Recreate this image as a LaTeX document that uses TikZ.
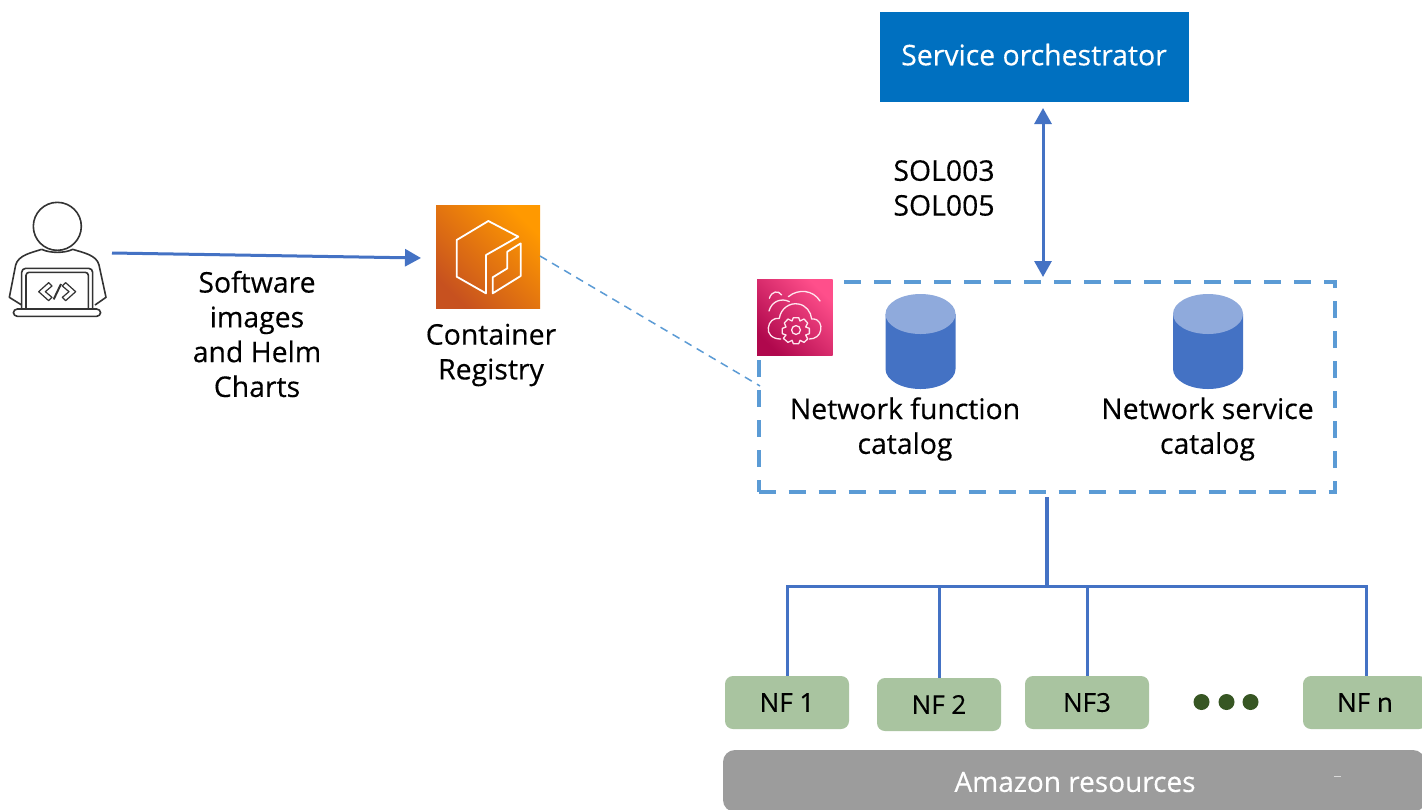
\documentclass[tikz,border=0pt]{standalone}
\usepackage{fontspec}
\setmainfont{Open Sans}[FakeBold=0.35]
\usetikzlibrary{arrows.meta}
\definecolor{linkblue}{HTML}{4472C4}
\definecolor{dashblue}{HTML}{5B9BD5}
\definecolor{orch}{HTML}{0070C0}
\definecolor{nfgreen}{HTML}{A9C4A0}
\definecolor{dotgreen}{HTML}{375623}
\definecolor{resgrey}{HTML}{9C9C9C}
\definecolor{cyltop}{HTML}{8FAADC}
\definecolor{iconline}{HTML}{333333}
\definecolor{orangeA}{HTML}{C7511F}
\definecolor{orangeB}{HTML}{FF9900}
\definecolor{pinkA}{HTML}{B0084D}
\definecolor{pinkB}{HTML}{FF4F8B}
\tikzset{
  lbl/.style={align=center,font=\fontsize{14.2}{17.4}\selectfont,text=black,inner sep=0pt},
  nfbox/.style={rectangle,rounded corners=4pt,fill=nfgreen,minimum width=62pt,minimum height=26.5pt,inner sep=0pt,font=\fontsize{13}{14}\selectfont},
  link/.style={draw=linkblue,line width=1.5pt},
  thin link/.style={draw=dashblue,line width=0.75pt,dash pattern=on 4pt off 3pt},
  tip/.style={-{Triangle[length=8pt,width=8.5pt]}},
  tips/.style={{Triangle[length=8pt,width=8.5pt]}-{Triangle[length=8pt,width=8.5pt]}},
  iconstroke/.style={draw=iconline,line width=0.8pt,line join=round},
  whitestroke/.style={draw=white,line width=0.9pt,line join=round,line cap=round},
  pinkstroke/.style={draw=white!85!pinkB,line width=0.65pt,line join=round,line cap=round}
}
\begin{document}
\begin{tikzpicture}[x=0.5pt,y=-0.5pt]
\useasboundingbox[clip] (0,0) rectangle (1422,809);
\fill[white] (0,0) rectangle (1422,809);

% developer icon
\begin{scope}[shift={(0,190)},x=0.16667pt,y=-0.16667pt]
  \draw[iconstroke] (172,109) circle [radius=12pt];
  \draw[iconstroke] (125,178) .. controls (150,190) and (195,190) .. (218,178)
    .. controls (250,188) and (290,195) .. (297,225) -- (318,322) -- (285,345);
  \draw[iconstroke] (125,178) .. controls (95,188) and (55,195) .. (47,225) -- (28,322) -- (65,345);
  \draw[iconstroke,rounded corners=2pt] (65,355) -- (65,235) -- (278,235) -- (278,355);
  \draw[iconstroke,rounded corners=1.5pt] (78,355) -- (78,247) -- (265,247) -- (265,355);
  \draw[iconstroke,rounded corners=2pt] (40,357) rectangle (302,379);
  \draw[iconstroke,line width=0.6pt] (146,278) -- (116,305) -- (146,332) -- (156,322) -- (136,305) -- (156,288) -- cycle;
  \draw[iconstroke,line width=0.6pt] (197,278) -- (227,305) -- (197,332) -- (187,322) -- (207,305) -- (187,288) -- cycle;
  \draw[iconstroke,line width=1pt] (161,328) -- (183,282);
\end{scope}
\coordinate (devout) at (112,253);

% container registry
\node[minimum width=52pt,minimum height=51.5pt,inner sep=0pt] (registry) at (488,256.5) {};
\shade[bottom color=orangeA,top color=orangeB,shading angle=-45] (436,205) rectangle (540,308.5);
\begin{scope}[shift={(420,190)},x=0.16667pt,y=-0.16667pt]
  \draw[whitestroke] (198,310) -- (110,260) -- (110,150) -- (205,93) -- (295,140) -- (198,195) -- cycle;
  \draw[whitestroke] (302,160) -- (302,258) -- (218,310) -- (218,262) -- (262,235) -- (262,185) -- cycle;
\end{scope}
\node[lbl] (registrylabel) at (491,355) {Container\\Registry};
\node[lbl] (swlabel) at (257,334) {Software\\images\\and Helm\\Charts};

% catalog box
\node[draw=dashblue,line width=2pt,dash pattern=on 8.5pt off 6.5pt,minimum width=288pt,minimum height=105pt,inner sep=0pt] (catalog) at (1046.5,387) {};

% service icon
\shade[bottom color=pinkA,top color=pinkB,shading angle=-45] (757,279.5) rectangle (832.5,355.5);
\begin{scope}[shift={(740,265)},x=0.16667pt,y=-0.16667pt]
  \draw[pinkstroke] (122,222) .. controls (95,222) and (82,205) .. (85,188)
     .. controls (87,170) and (100,158) .. (118,160)
     .. controls (122,130) and (150,112) .. (175,117)
     .. controls (197,120) and (213,140) .. (215,162)
     .. controls (240,160) and (245,182) .. (242,195)
     .. controls (240,212) and (225,222) .. (208,222);
  \draw[pinkstroke] (88,100) .. controls (95,78) and (115,75) .. (125,90);
  \draw[pinkstroke] (145,95) .. controls (175,70) and (220,75) .. (240,108);
  \draw[pinkstroke] (87,138) .. controls (95,108) and (125,98) .. (148,110);
  \draw[pinkstroke] (168,195) circle [radius=2.2pt];
  \draw[pinkstroke] (160,158) -- (176,158) -- (180,168) -- (192,162) -- (203,174) -- (197,186) -- (208,190) -- (208,206) -- (197,210) -- (203,222) -- (192,232) -- (180,226) -- (176,236) -- (160,236) -- (156,226) -- (144,232) -- (130,220) -- (138,210) -- (127,206) -- (127,190) -- (138,186) -- (133,174) -- (144,162) -- (156,168) -- cycle;
\end{scope}

% cylinders
\fill[linkblue] (885.5,314) -- (885.5,369) arc[start angle=180,end angle=360,x radius=17.5pt,y radius=10pt] -- (955.5,314) -- cycle;
\fill[cyltop] (920.5,314) ellipse [x radius=17.5pt,y radius=10pt];
\fill[linkblue] (1173,314) -- (1173,369) arc[start angle=180,end angle=360,x radius=17.5pt,y radius=10pt] -- (1243,314) -- cycle;
\fill[cyltop] (1208,314) ellipse [x radius=17.5pt,y radius=10pt];
\node[lbl] (nfcat) at (905,429) {Network function\\catalog};
\node[lbl] (nscat) at (1207.5,429) {Network service\\catalog};

% orchestrator
\node[rectangle,fill=orch,minimum width=154.5pt,minimum height=45pt,inner sep=0pt,text=white,font=\fontsize{14.2}{16}\selectfont] (orchestrator) at (1034,56.5) {\raisebox{2pt}{Service orchestrator}};
\node[lbl] (sol) at (944,188) {SOL003\\SOL005};

% nf boxes
\node[nfbox] (nf1) at (787,702.5) {NF 1};
\node[nfbox] (nf2) at (939,704.5) {NF 2};
\node[nfbox] (nf3) at (1087,702.5) {NF3};
\node[nfbox] (nfn) at (1365,702.5) {NF n};
\fill[dotgreen] (1201.5,702) circle [radius=4pt];
\fill[dotgreen] (1226.5,702) circle [radius=4pt];
\fill[dotgreen] (1250.5,702) circle [radius=4pt];

% resources
\node[rectangle,rounded corners=6pt,fill=resgrey,minimum width=351pt,minimum height=31pt,inner sep=0pt] (res) at (1074,781) {};
\node[text=white,inner sep=0pt,font=\fontsize{14}{16}\selectfont] (reslabel) at (1075,782) {Amazon resources};
\draw[white!85!black,line width=0.4pt] (1334,776.5) -- (1341,776.5);

% connectors
\coordinate (regin) at (421,258);
\draw[link,tip] (devout) -- (regin);
\coordinate (regout) at (540,256);
\coordinate (catin) at (760,386);
\draw[thin link] (regout) -- (catin);
\coordinate (orchb) at (1043,108);
\coordinate (catt) at (1043,277);
\draw[link,tips] (orchb) -- (catt);
\coordinate (treetop) at (1047,497);
\coordinate (treemid) at (1047,586);
\draw[link,line width=2pt] (treetop) -- (treemid);
\draw[link] (nf1.north) -- (787,586) -- (1366,586) -- (1366,676);
\draw[link] (nf2.north) -- (939,586);
\draw[link] (nf3.north) -- (1087,586);
\end{tikzpicture}
\end{document}
